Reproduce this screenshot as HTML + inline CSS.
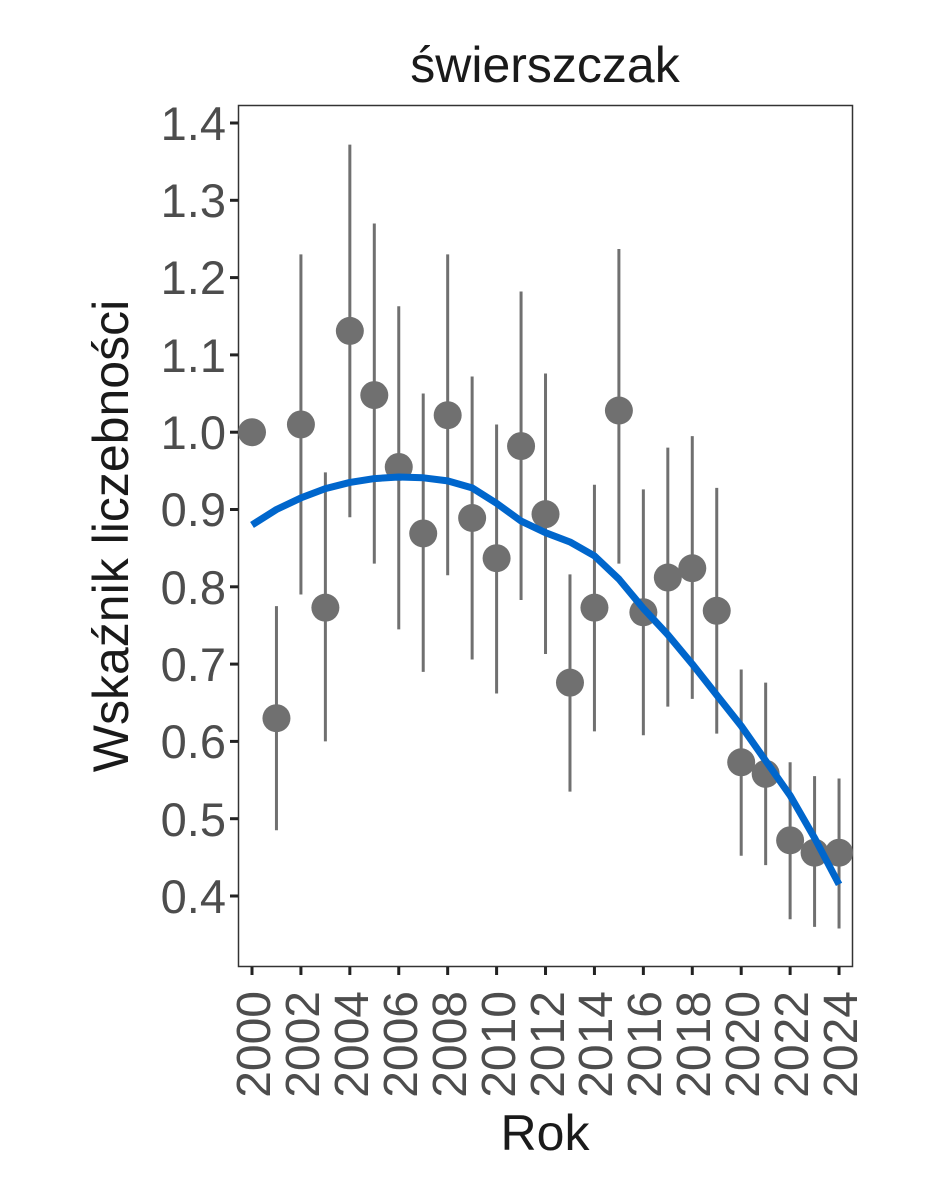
<!DOCTYPE html>
<html><head><meta charset="utf-8"><style>body{margin:0;background:#fff}svg{display:block}</style></head>
<body>
<svg id="s" width="944" height="1181" xmlns="http://www.w3.org/2000/svg" font-family="Liberation Sans, Arial, sans-serif">
<rect x="0" y="0" width="944" height="1181" fill="#fff"/>
<rect x="238.5" y="105.5" width="614" height="861" fill="none" stroke="#333" stroke-width="1.5"/>
<text x="545" y="82" font-size="50" text-anchor="middle" fill="#1a1a1a">świerszczak</text>
<text x="545" y="1150" font-size="50" text-anchor="middle" fill="#1a1a1a">Rok</text>
<text transform="translate(128,536) rotate(-90)" font-size="50" text-anchor="middle" fill="#1a1a1a">Wskaźnik liczebności</text>
<g font-size="47" fill="#4d4d4d" text-anchor="end">
<text x="226" y="140">1.4</text><text x="226" y="217">1.3</text><text x="226" y="294">1.2</text>
<text x="226" y="372">1.1</text><text x="226" y="449">1.0</text><text x="226" y="526">0.9</text>
<text x="226" y="604">0.8</text><text x="226" y="681">0.7</text><text x="226" y="758">0.6</text>
<text x="226" y="836">0.5</text><text x="226" y="913">0.4</text>
</g>
<g font-size="48" fill="#4d4d4d" text-anchor="end">
<text transform="translate(270,991) rotate(-90)">2000</text>
<text transform="translate(319,991) rotate(-90)">2002</text>
<text transform="translate(368,991) rotate(-90)">2004</text>
<text transform="translate(417,991) rotate(-90)">2006</text>
<text transform="translate(466,991) rotate(-90)">2008</text>
<text transform="translate(515,991) rotate(-90)">2010</text>
<text transform="translate(564,991) rotate(-90)">2012</text>
<text transform="translate(612,991) rotate(-90)">2014</text>
<text transform="translate(661,991) rotate(-90)">2016</text>
<text transform="translate(710,991) rotate(-90)">2018</text>
<text transform="translate(759,991) rotate(-90)">2020</text>
<text transform="translate(808,991) rotate(-90)">2022</text>
<text transform="translate(857,991) rotate(-90)">2024</text>
</g>
<g id="g"></g>
</svg>
<script>
var NS="http://www.w3.org/2000/svg",g=document.getElementById("g");
function Y(v){return 896-(v-0.4)*773}function X(y){return 252+(y-2000)*24.46}
function el(t,a){var e=document.createElementNS(NS,t);for(var k in a)e.setAttribute(k,a[k]);g.appendChild(e);return e}
for(var v=4;v<=14;v++)el("line",{x1:230,x2:238,y1:Y(v/10),y2:Y(v/10),stroke:"#222","stroke-width":3});
for(var yr=2000;yr<=2024;yr+=2)el("line",{x1:X(yr),x2:X(yr),y1:967,y2:975,stroke:"#222","stroke-width":3});
var d=[[1.0,1.0,1.0],[0.63,0.485,0.775],[1.01,0.79,1.23],[0.773,0.6,0.948],[1.131,0.89,1.372],[1.048,0.83,1.27],[0.955,0.745,1.163],[0.869,0.69,1.05],[1.022,0.815,1.23],[0.889,0.706,1.072],[0.837,0.662,1.01],[0.982,0.783,1.182],[0.894,0.713,1.076],[0.676,0.535,0.816],[0.773,0.613,0.932],[1.028,0.83,1.237],[0.767,0.608,0.926],[0.812,0.645,0.98],[0.824,0.655,0.995],[0.769,0.61,0.928],[0.573,0.452,0.693],[0.558,0.44,0.676],[0.472,0.37,0.573],[0.456,0.36,0.555],[0.456,0.358,0.552]];
d.forEach(function(p,i){if(p[1]!=p[2])el("line",{x1:X(2000+i),x2:X(2000+i),y1:Y(p[1]),y2:Y(p[2]),stroke:"#707070","stroke-width":3})});
d.forEach(function(p,i){el("circle",{cx:X(2000+i),cy:Y(p[0]),r:14,fill:"#707070"})});
var c=[0.88,0.9,0.915,0.927,0.935,0.94,0.942,0.941,0.937,0.928,0.908,0.885,0.87,0.858,0.84,0.81,0.772,0.738,0.70,0.66,0.62,0.575,0.53,0.475,0.415];
el("polyline",{points:c.map(function(v,i){return X(2000+i)+","+Y(v)}).join(" "),fill:"none",stroke:"#0066cc","stroke-width":7,"stroke-linejoin":"round"});
</script>
</body></html>
